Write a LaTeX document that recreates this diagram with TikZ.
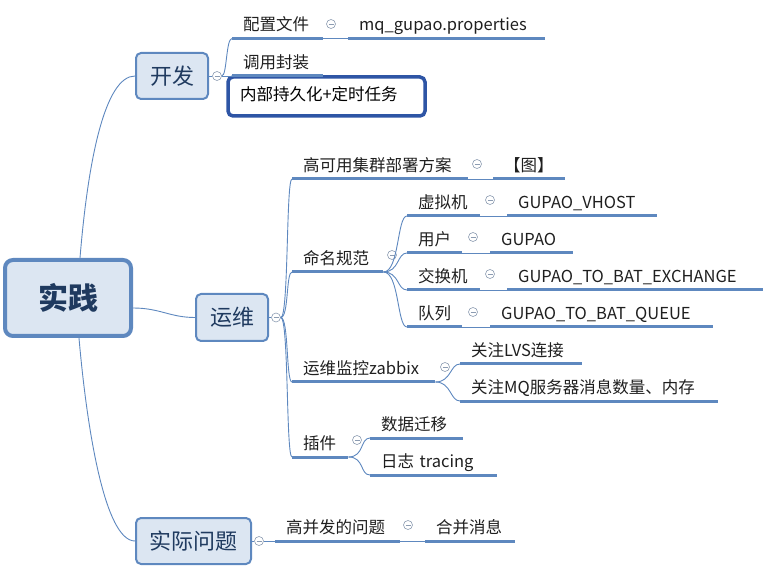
\documentclass[tikz,border=0pt]{standalone}
\usepackage{fontspec}
\setmainfont{Noto Sans CJK SC}
\definecolor{xmblue}{RGB}{94,136,191}
\definecolor{xmfill}{RGB}{220,230,242}
\definecolor{xmtext}{RGB}{31,58,95}
\definecolor{xmsel}{RGB}{46,85,165}
\definecolor{xmgray}{RGB}{140,156,178}

\begin{document}
\begin{tikzpicture}[x=1pt,y=-1pt,
        topic/.style={draw=xmblue, line width=2pt, fill=xmfill, rounded corners=5pt, text=xmtext, font=\fontsize{22}{24}\selectfont},
        leaf/.style={anchor=south west, align=left, inner xsep=11pt, inner ysep=3.5pt, text height=13pt, text depth=4pt, text width=#1, text=black!88, font=\fontsize{16.5}{18}\selectfont},
        fold/.style={circle, draw=xmgray, line width=.6pt, fill=white, minimum size=9pt, inner sep=0pt,
            path picture={\draw[xmgray, line width=.6pt] ([xshift=-2.5pt]path picture bounding box.center) -- ([xshift=2.5pt]path picture bounding box.center);}},
        link/.style={draw=xmblue, line width=.9pt},
        uline/.style={draw=xmblue, line width=3pt}]
            \useasboundingbox (0,0) rectangle (780,580);

            \node[topic, minimum width=126pt, minimum height=76pt, line width=4pt, rounded corners=8pt, font=\fontsize{30}{32}\selectfont\bfseries] (root) at (68,298) {实践};
            \node[topic, minimum width=72pt, minimum height=46pt] (kf) at (172,76) {开发};
            \node[topic, minimum width=72pt, minimum height=47pt] (yw) at (232,317.5) {运维};
            \node[topic, minimum width=115pt, minimum height=46pt] (sj) at (193.5,541) {实际问题};
            \node[fold] (f_kf) at (217,76) {};
            \node[fold] (f_yw) at (276,317.5) {};
            \node[fold] (f_sj) at (259,541) {};

            \node[leaf=69pt] (cfg) at (232,38.5) {配置文件};
            \node[leaf=175pt] (cfgval) at (348,38.5) {mq\_gupao.properties};
            \node[leaf=69pt] (wrap) at (232,76) {调用封装};
            \node[draw=xmsel, line width=3.5pt, rounded corners=5pt, fill=white, text width=173pt, align=left, inner xsep=12pt, text height=13pt, text depth=4pt, minimum height=39pt, font=\fontsize{16.5}{18}\selectfont] (persist) at (326.5,96.5) {内部持久化+定时任务};

            \node[leaf=154pt] (ha) at (292,179) {高可用集群部署方案};
            \node[leaf=50pt] (haval) at (493,179) {【图】};
            \node[leaf=69pt] (naming) at (292,272) {命名规范};
            \node[leaf=51pt] (vm) at (407,216) {虚拟机};
            \node[leaf=128pt] (vmval) at (507,216) {GUPAO\_VHOST};
            \node[leaf=33pt] (user) at (407,253) {用户};
            \node[leaf=61pt] (userval) at (490,253) {GUPAO};
            \node[leaf=51pt] (exch) at (407,290) {交换机};
            \node[leaf=234pt] (exchval) at (507,290) {GUPAO\_TO\_BAT\_EXCHANGE};
            \node[leaf=33pt] (queue) at (407,327) {队列};
            \node[leaf=201pt] (queueval) at (490,327) {GUPAO\_TO\_BAT\_QUEUE};
            \node[leaf=121pt] (zbx) at (292,382) {运维监控zabbix};
            \node[leaf=100pt] (lvs) at (460,364) {关注LVS连接};
            \node[leaf=236pt] (mqmem) at (460,401) {关注MQ服务器消息数量、内存};
            \node[leaf=34pt] (plugin) at (292,457) {插件};
            \node[leaf=71pt] (migrate) at (370,438) {数据迁移};
            \node[leaf=105pt] (trace) at (370,475) {日志 tracing};

            \node[leaf=103pt] (hc) at (275,541) {高并发的问题};
            \node[leaf=68pt] (merge) at (425,541) {合并消息};

            \foreach \n/\x/\y in {cfg/331/24, ha/477/164, naming/392/255, vm/490/200, user/473/237, exch/490/274, queue/473/312, zbx/445/367, plugin/357/440, hc/408/525}
                \node[fold] (f_\n) at (\x,\y) {};

            \draw[link] ([xshift=12pt]root.north) .. controls (88,160) and (105,76) .. (kf.west);
            \draw[link] ([xshift=11pt]root.south) .. controls (87,430) and (105,541) .. (sj.west);
            \draw[link] ([yshift=-10pt]root.east) .. controls (160,308) and (170,317.5) .. (yw.west);
            \draw[link] (kf.east) -- (f_kf.west);
            \draw[link] (yw.east) -- (f_yw.west);
            \draw[link] (sj.east) -- (f_sj.west);
            \draw[link] (f_kf.east) .. controls (227,76) and (226,38.5) .. (cfg.south west);
            \draw[link] (f_kf.east) -- (wrap.south west);
            \draw[link] (f_sj.east) -- (hc.south west);
            \foreach \n in {ha,naming,zbx,plugin}
                \draw[link] (f_yw.east) to[out=0, in=180, out distance=8pt, in distance=6pt] (\n.south west);
            \foreach \n in {vm,user,exch,queue}
                \draw[link] (naming.south east) to[out=0, in=180, out distance=16pt, in distance=10pt] (\n.south west);
            \foreach \n in {lvs,mqmem}
                \draw[link] (zbx.south east) to[out=0, in=180, out distance=16pt, in distance=10pt] (\n.south west);
            \foreach \n in {migrate,trace}
                \draw[link] (plugin.south east) to[out=0, in=180, out distance=16pt, in distance=10pt] (\n.south west);
            \foreach \a/\b in {cfg/cfgval, ha/haval, vm/vmval, user/userval, exch/exchval, queue/queueval, hc/merge}
                \draw[link] (\a.south east) -- (\b.south west);

            \foreach \n in {cfg,cfgval,wrap,ha,haval,naming,vm,vmval,user,userval,exch,exchval,queue,queueval,zbx,lvs,mqmem,plugin,migrate,trace,hc,merge}
                \draw[uline] (\n.south west) -- (\n.south east);
        \end{tikzpicture}
\end{document}
